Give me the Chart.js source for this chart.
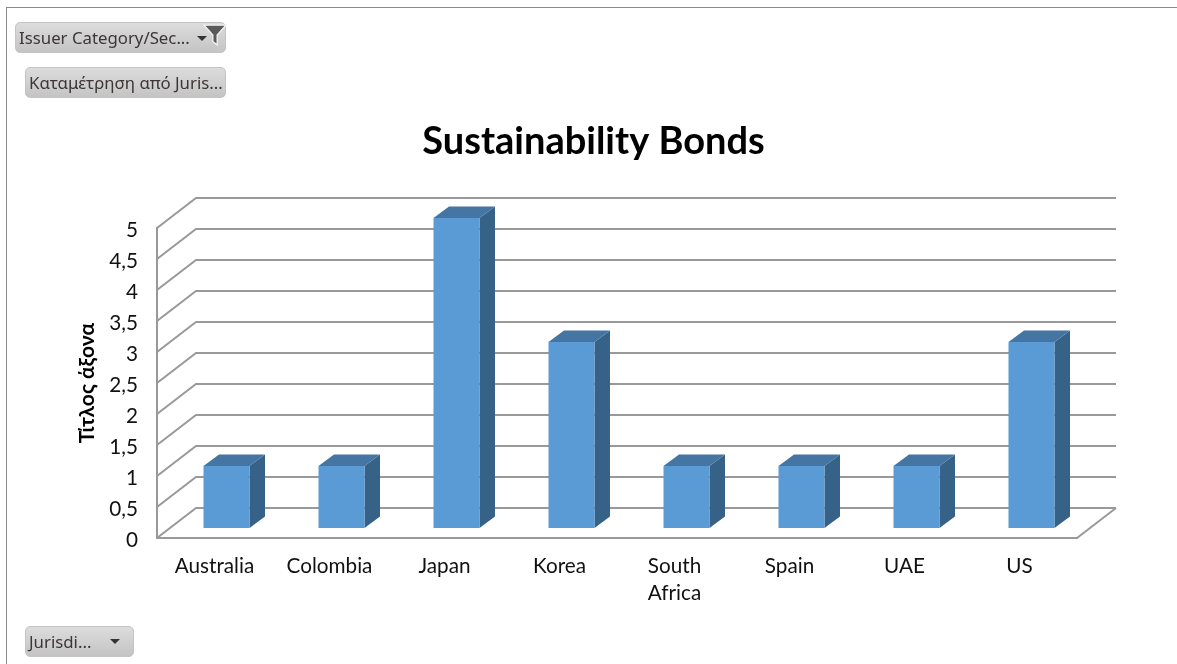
<!DOCTYPE html>
<html>
<head>
<meta charset="utf-8">
<title>Sustainability Bonds</title>
<script src="https://cdn.jsdelivr.net/npm/chart.js@4"></script>
<style>
    html, body { margin: 0; padding: 0; background: #fff; overflow: hidden; }
    #frame { position: absolute; left: 6px; top: 7px; right: 0; bottom: 0; border-top: 1px solid #8a8a8a; border-left: 1px solid #8a8a8a; }
    #chart { position: absolute; left: 0; top: 0; }
    .btn {
        position: absolute; box-sizing: border-box; height: 31px; line-height: 29px; padding-left: 3px;
        font-family: "Noto Sans", sans-serif; font-size: 16.8px; color: #3c3636; white-space: nowrap;
        background: linear-gradient(#dcdcdc, #c4c4c4); border: 1px solid #c4c4c4; border-radius: 5px;
    }
    .arrow { position: absolute; width: 0; height: 0; border-left: 5px solid transparent; border-right: 5px solid transparent; border-top: 5px solid #333; }
</style>
</head>
<body>
<div id="frame"></div>
<canvas id="chart" width="1177" height="664"></canvas>
<div class="btn" style="left:15px;top:22px;width:211px"><span id="btn1"></span>
    <span class="arrow" style="left:181px;top:13px"></span>
    <svg style="position:absolute;left:187px;top:0" width="24" height="24" viewBox="0 0 22 22">
        <path d="M1 2 H21 L13 11 V20 L9 17 V11 Z" fill="#5a5a5a" stroke="#f2f2f2" stroke-width="1.2"/>
    </svg>
</div>
<div class="btn" style="left:25px;top:67px;width:201px"><span id="btn2"></span></div>
<div class="btn" style="left:25px;top:626px;width:109px"><span id="btn3"></span>
    <span class="arrow" style="left:84px;top:12px"></span>
</div>
<script>
const categories = ['Australia', 'Colombia', 'Japan', 'Korea', ['South', 'Africa'], 'Spain', 'UAE', 'US'];
const counts = [1, 1, 5, 3, 1, 1, 1, 3];
const chartTitle = 'Sustainability Bonds';
const axisTitle = 'Τίτλος άξονα';
const fieldButtons = ['Issuer Category/Sec...', 'Καταμέτρηση από Juris...', 'Jurisdi...'];

fieldButtons.forEach((text, i) => {
    document.getElementById('btn' + (i + 1)).textContent = text;
});

const FONT = 'Lato, "Noto Sans", sans-serif';
const GRID = '#999999';

// Πίσω τοίχος και δάπεδο του ψευδο-3D γραφήματος
const wallPlugin = {
    id: 'wall',
    afterLayout(chart) {
        // ο τίτλος είναι κεντραρισμένος στο παράθυρο, όχι στην περιοχή του γραφήματος
        chart.titleBlock.left += 17.5;
        chart.titleBlock.right += 17.5;
    },
    beforeDatasetsDraw(chart) {
        const { ctx, chartArea, scales } = chart;
        const dx = 39, dy = -30;
        ctx.save();
        ctx.strokeStyle = GRID;
        ctx.lineWidth = 2;
        scales.y.ticks.forEach(t => {
            const y = scales.y.getPixelForValue(t.value);
            ctx.beginPath();
            ctx.moveTo(chartArea.left, y);
            ctx.lineTo(chartArea.left + dx, y + dy);
            ctx.lineTo(chartArea.right + dx, y + dy);
            ctx.stroke();
        });
        const y0 = scales.y.getPixelForValue(0);
        ctx.beginPath();
        ctx.moveTo(chartArea.right + dx, y0 + dy);
        ctx.lineTo(chartArea.right, y0);
        ctx.stroke();
        ctx.restore();
    }
};

// Πλαϊνή και πάνω όψη κάθε μπάρας, η μπροστινή όψη μένει στη βιβλιοθήκη
const barPlugin = {
    id: 'bar3d',
    beforeDatasetDraw(chart, args) {
        const { ctx } = chart;
        const ox = 12, oy = -10, dx = 15.5, dy = -11.5;
        ctx.save();
        chart.getDatasetMeta(args.index).data.forEach(bar => {
            const l = bar.x - bar.width / 2 + ox;
            const r = bar.x + bar.width / 2 + ox;
            const t = bar.y + oy;
            const b = bar.base + oy;
            ctx.fillStyle = '#376288';
            ctx.beginPath();
            ctx.moveTo(r, t);
            ctx.lineTo(r + dx, t + dy);
            ctx.lineTo(r + dx, b + dy);
            ctx.lineTo(r, b);
            ctx.closePath();
            ctx.fill();
            ctx.fillStyle = '#4475a3';
            ctx.beginPath();
            ctx.moveTo(l, t);
            ctx.lineTo(l + dx, t + dy);
            ctx.lineTo(r + dx, t + dy);
            ctx.lineTo(r, t);
            ctx.closePath();
            ctx.fill();
        });
        ctx.restore();
        ctx.save();
        ctx.translate(ox, oy);
    },
    afterDatasetDraw(chart) {
        chart.ctx.restore();
    }
};

new Chart(document.getElementById('chart').getContext('2d'), {
    type: 'bar',
    data: {
        labels: categories,
        datasets: [{
            data: counts,
            backgroundColor: '#5b9bd5',
            borderWidth: 0,
            barPercentage: 0.4,
            categoryPercentage: 1,
            clip: false
        }]
    },
    options: {
        responsive: false,
        animation: false,
        layout: { padding: { left: 75, right: 100, top: 0, bottom: 0 } },
        plugins: {
            legend: { display: false },
            tooltip: { enabled: false },
            title: {
                display: true,
                text: chartTitle,
                color: '#000',
                font: { family: FONT, size: 38, weight: 'bold', lineHeight: 1.2 },
                padding: { top: 119, bottom: 63.4 }
            }
        },
        scales: {
            x: {
                grid: { display: false, drawTicks: false },
                border: { color: GRID, width: 2 },
                ticks: { color: '#111', font: { family: FONT, size: 20.7, lineHeight: 1.3 }, padding: 15, maxRotation: 0, autoSkip: false },
                afterFit(scale) { scale.height = 126; }
            },
            y: {
                min: 0,
                max: 5,
                grid: { display: false, drawTicks: false },
                border: { color: GRID, width: 2 },
                ticks: {
                    stepSize: 0.5,
                    color: '#111',
                    font: { family: FONT, size: 20.7 },
                    padding: 19,
                    labelOffset: 2,
                    callback: v => String(v).replace('.', ',')
                },
                title: {
                    display: true,
                    text: axisTitle,
                    color: '#000',
                    font: { family: FONT, size: 21, weight: 'bold', lineHeight: 1.2 },
                    padding: 0
                },
                afterFit(scale) { scale.width = 82; }
            }
        }
    },
    plugins: [wallPlugin, barPlugin]
});
</script>
</body>
</html>
